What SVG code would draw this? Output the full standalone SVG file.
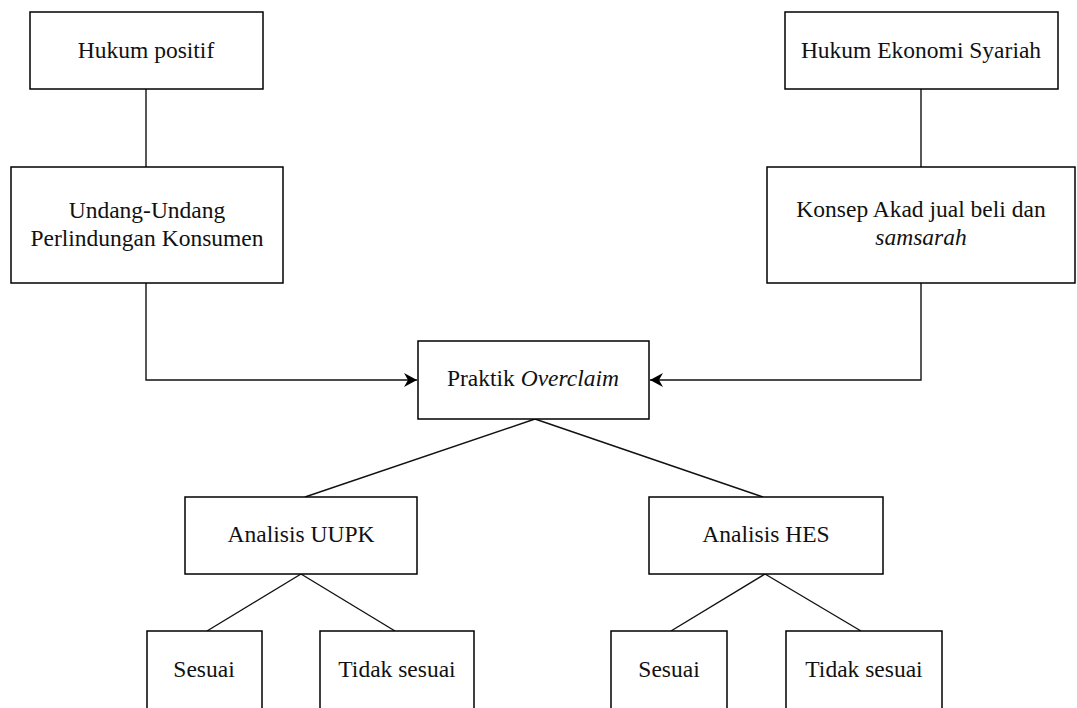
<svg xmlns="http://www.w3.org/2000/svg" width="1077" height="708" viewBox="0 0 1077 708">
<style>
.box{fill:#fff;stroke:#000;stroke-width:1.5}
.t{font-family:'Liberation Serif','Times New Roman',serif;font-size:23.5px;fill:#111;text-anchor:middle}
.i{font-style:italic}
.c{fill:none;stroke:#111;stroke-width:1.4}
</style>
<defs>
<marker id="arr" markerUnits="userSpaceOnUse" markerWidth="14" markerHeight="14" refX="13" refY="7" orient="auto">
<path d="M0,0 L13,7 L0,14 L4,7 z" fill="#000"/>
</marker>
</defs>
<rect width="1077" height="708" fill="#fff"/>
<g id="connectors">
<path class="c" d="M146 89 V167"/>
<path class="c" d="M921 89 V167"/>
<path class="c" d="M146 283 V380 H417" marker-end="url(#arr)"/>
<path class="c" d="M921 283 V380 H650" marker-end="url(#arr)"/>
<path class="c" d="M535 419 L305 497"/>
<path class="c" d="M535 419 L763 497"/>
<path class="c" d="M301 574 L207 631"/>
<path class="c" d="M301 574 L395 631"/>
<path class="c" d="M765 574 L671 631"/>
<path class="c" d="M765 574 L861 631"/>
</g>
<g id="n1"><rect class="box" x="30" y="12" width="233" height="77"/><text class="t" x="146" y="58">Hukum positif</text></g>
<g id="n2"><rect class="box" x="11" y="167" width="272" height="116"/><text class="t" x="147" y="218">Undang-Undang</text><text class="t" x="147" y="246">Perlindungan Konsumen</text></g>
<g id="n3"><rect class="box" x="785" y="12" width="273" height="77"/><text class="t" x="921" y="58">Hukum Ekonomi Syariah</text></g>
<g id="n4"><rect class="box" x="767" y="167" width="308" height="116"/><text class="t" x="921" y="217">Konsep Akad jual beli dan</text><text class="t i" x="921" y="245">samsarah</text></g>
<g id="n5"><rect class="box" x="418" y="341" width="231" height="78"/><text class="t" x="533" y="386">Praktik <tspan class="i">Overclaim</tspan></text></g>
<g id="n6"><rect class="box" x="185" y="497" width="232" height="77"/><text class="t" x="301" y="542">Analisis UUPK</text></g>
<g id="n7"><rect class="box" x="649" y="497" width="234" height="77"/><text class="t" x="766" y="542">Analisis HES</text></g>
<g id="n8"><rect class="box" x="147" y="631" width="115" height="100"/><text class="t" x="204" y="677">Sesuai</text></g>
<g id="n9"><rect class="box" x="320" y="631" width="154" height="100"/><text class="t" x="397" y="677">Tidak sesuai</text></g>
<g id="n10"><rect class="box" x="611" y="631" width="116" height="100"/><text class="t" x="669" y="677">Sesuai</text></g>
<g id="n11"><rect class="box" x="786" y="631" width="156" height="100"/><text class="t" x="864" y="677">Tidak sesuai</text></g>
</svg>
